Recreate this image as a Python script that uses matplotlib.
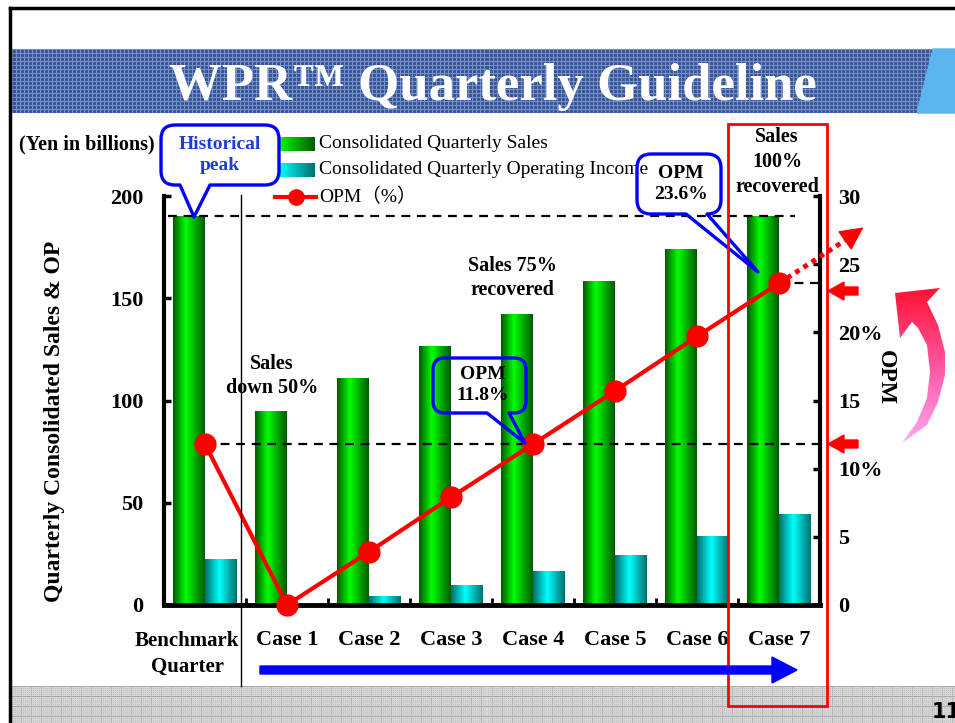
import numpy as np
import matplotlib
matplotlib.use("Agg")
import matplotlib.pyplot as plt
from matplotlib.colors import LinearSegmentedColormap
from matplotlib.patches import Rectangle, Polygon, PathPatch
from matplotlib.path import Path

# ---------------- data ----------------
categories = ["Benchmark\nQuarter", "Case 1", "Case 2", "Case 3", "Case 4", "Case 5", "Case 6", "Case 7"]
sales = [190, 95, 110.8, 126.7, 142.5, 158.3, 174.2, 190]
op_income = [22.4, 0, 4.2, 9.9, 16.5, 24.5, 33.5, 44.5]
opm = [11.8, 0, 3.9, 7.9, 11.8, 15.7, 19.7, 23.6]
left_ticks = [0, 50, 100, 150, 200]
right_ticks = [0, 5, 10, 15, 20, 25, 30]
right_tick_labels = ["0", "5", "10%", "15", "20%", "25", "30"]
series_names = ["Consolidated Quarterly Sales",
                "Consolidated Quarterly Operating Income",
                "OPM（%）"]

plt.rcParams["font.family"] = ["Liberation Serif", "Noto Sans CJK JP"]
plt.rcParams["font.weight"] = "bold"

W, H = 955, 723
fig = plt.figure(figsize=(W / 100, H / 100), dpi=100)
fig.patch.set_facecolor("white")

# ---------------- main axes ----------------
ax = fig.add_axes([164 / W, 1 - 605 / H, 656 / W, 409 / H])
ax2 = ax.twinx()

x = np.arange(len(categories))
bw = 0.39
gbars = ax.bar(x - bw / 2, sales, bw, color="#00c000", zorder=2)
cbars = ax.bar(x + bw / 2, op_income, bw, color="#00d0d0", zorder=2)

green_cmap = LinearSegmentedColormap.from_list(
    "g", [(0, "#005800"), (0.4, "#00ff00"), (1, "#005800")])
cyan_cmap = LinearSegmentedColormap.from_list(
    "c", [(0, "#006e6e"), (0.45, "#00ffff"), (1, "#006e6e")])
grad = np.linspace(0, 1, 256).reshape(1, -1)
for bars, cmap in ((gbars, green_cmap), (cbars, cyan_cmap)):
    for p in bars:
        x0, w, h = p.get_x(), p.get_width(), p.get_height()
        if h <= 0:
            continue
        im = ax.imshow(grad, cmap=cmap, extent=(x0, x0 + w, 0, h),
                       aspect="auto", zorder=2.5, interpolation="bilinear")
        im.set_clip_path(p)

ax.set_xlim(-0.5, 7.5)
ax.set_ylim(0, 200)
ax2.set_ylim(0, 30)

# dashed reference lines
ax.plot([-0.45, 7.2], [sales[0], sales[0]], color="black", lw=1.6,
        ls=(0, (4, 3)), zorder=3)
ax2.plot([0, 7.5], [opm[0], opm[0]], color="black", lw=1.6,
         ls=(0, (4, 3)), zorder=3)
ax2.plot([7, 7.5], [opm[7], opm[7]], color="black", lw=1.6,
         ls=(0, (4, 3)), zorder=3)

# OPM line
ax2.plot(x, opm, color="#ff0000", lw=3, marker="o", ms=15, zorder=4,
         clip_on=False)
slope = opm[7] - opm[6]
ax2.plot([7, 7.8], [opm[7], opm[7] + 0.8 * slope], color="#ff0000", lw=3.5,
         ls=(0, (1, 1)), zorder=4, clip_on=False)
ax2.annotate("", xy=(8.03, opm[7] + 1.05 * slope), xytext=(7.8, opm[7] + 0.8 * slope),
             arrowprops=dict(arrowstyle="-|>,head_length=1.5,head_width=0.75",
                             color="#ff0000", lw=1, shrinkA=0, shrinkB=0),
             annotation_clip=False, zorder=4)

# axes styling
for a in (ax, ax2):
    a.spines["top"].set_visible(False)
ax.spines["right"].set_visible(False)
ax2.spines["left"].set_visible(False)
ax2.spines["bottom"].set_visible(False)
ax.spines["left"].set_linewidth(3)
ax.spines["bottom"].set_linewidth(3.5)
ax2.spines["right"].set_linewidth(3)

ax.set_yticks(left_ticks)
ax.tick_params(axis="y", direction="in", length=5, width=2.5, pad=15, labelsize=16)
ax2.set_yticks(right_ticks)
ax2.set_yticklabels(right_tick_labels)
ax2.tick_params(axis="y", direction="in", length=5, width=2.5, pad=13, labelsize=16)

ax.set_xticks(x[1:])
ax.set_xticklabels(categories[1:])
ax.set_xticks(np.arange(0.5, 7, 1), minor=True)
ax.tick_params(axis="x", which="major", length=0, pad=18, labelsize=16)
ax.tick_params(axis="x", which="minor", direction="in", length=5, width=2)

ax.set_ylabel("Quarterly Consolidated Sales & OP", fontsize=17, fontweight="bold")
ax.yaxis.set_label_coords((65 - 164) / 656, (605 - 421) / 409)
ax2.set_ylabel("OPM", fontsize=17, fontweight="bold", rotation=-90, va="center")
ax2.yaxis.set_label_coords((885 - 164) / 656, (605 - 377) / 409)

# ---------------- overlay (pixel coordinates) ----------------
ov = fig.add_axes([0, 0, 1, 1], zorder=5)
ov.set_xlim(0, W)
ov.set_ylim(H, 0)
ov.axis("off")
ov.patch.set_alpha(0)

# slide borders
ov.plot([10, W], [8, 8], color="black", lw=2.5)
ov.plot([10, 10], [8, H], color="black", lw=2.5)

# title banner with texture
ii, jj = np.indices((64, 943))
tex = np.zeros((64, 943, 3))
tex[:] = (0.22, 0.34, 0.62)
mask = (ii % 4 == 0) | (jj % 4 == 0)
tex[mask] = (0.47, 0.57, 0.78)
ov.imshow(tex, extent=(12, W, 113, 49), aspect="auto", zorder=1,
          interpolation="nearest")
ov.add_patch(Polygon([(917, 113), (933, 49), (W, 49), (W, 113)],
                     closed=True, color="#5cb4ee", zorder=2))
ov.text(493, 100, "WPR™ Quarterly Guideline", color="white", fontsize=38,
        fontweight="bold", ha="center", va="baseline", zorder=3)

# bottom band
ii, jj = np.indices((37, 944))
tex2 = np.ones((37, 944, 3)) * 0.84
tex2[(ii % 2 == 0) & (jj % 2 == 0)] = 0.76
tex2[(ii % 10 == 0)] = 0.66
tex2[(jj % 10 == 0)] = 0.72
ov.imshow(tex2, extent=(11, W, H, 686), aspect="auto", zorder=1,
          interpolation="nearest")
ov.text(932, 712, "11", fontsize=15, fontweight="bold", family="DejaVu Sans",
        ha="left", va="center", zorder=3)

# separator line
ov.plot([241, 241], [195, 686], color="black", lw=1)

# legend
ov.imshow(LinearSegmentedColormap.from_list("lg", ["#00ff00", "#005a00"])(grad),
          extent=(279, 315, 151, 137), aspect="auto", zorder=3)
ov.imshow(LinearSegmentedColormap.from_list("lc", ["#00ffff", "#007070"])(grad),
          extent=(279, 315, 177, 163), aspect="auto", zorder=3)
ov.plot([275, 316], [197, 197], color="#ff0000", lw=3, zorder=3)
ov.plot([296], [197], marker="o", color="#ff0000", ms=11, zorder=3)
for yy, name in zip((144, 170, 197), series_names):
    ov.text(319, yy, name, fontsize=14, fontweight="normal", ha="left",
            va="center", zorder=3)

ov.text(87, 144, "(Yen in billions)", fontsize=14.5, fontweight="bold",
        ha="center", va="center")


# callouts
def callout(x0, y0, x1, y1, r, ba, bb, tip):
    verts = [(ba, y1), tip, (bb, y1), (x1 - r, y1),
             (x1, y1), (x1, y1 - r), (x1, y0 + r),
             (x1, y0), (x1 - r, y0), (x0 + r, y0),
             (x0, y0), (x0, y0 + r), (x0, y1 - r),
             (x0, y1), (x0 + r, y1), (ba, y1)]
    codes = [Path.MOVETO, Path.LINETO, Path.LINETO, Path.LINETO,
             Path.CURVE3, Path.CURVE3, Path.LINETO,
             Path.CURVE3, Path.CURVE3, Path.LINETO,
             Path.CURVE3, Path.CURVE3, Path.LINETO,
             Path.CURVE3, Path.CURVE3, Path.CLOSEPOLY]
    ov.add_patch(PathPatch(Path(verts, codes), fill=False, ec="#0000ff",
                           lw=2.4, joinstyle="round", zorder=6))


callout(161, 125, 279, 185, 14, 180, 210, (194, 217))
callout(637, 154, 721, 214, 14, 686, 707, (758, 272))
callout(433, 358, 526, 413, 12, 487, 509, (525, 443))

ov.text(220, 155, "Historical\npeak", color="#1c3fd1", fontsize=14,
        fontweight="bold", ha="center", va="center", linespacing=1.25, zorder=7)
ov.text(681, 184, "OPM\n23.6%", fontsize=14, fontweight="bold",
        ha="center", va="center", linespacing=1.25, zorder=7)
ov.text(483, 385, "OPM\n11.8%", fontsize=14, fontweight="bold",
        ha="center", va="center", linespacing=1.25, zorder=7)
ov.text(777, 162, "Sales\n100%\nrecovered", fontsize=14.5, fontweight="bold",
        ha="center", va="center", linespacing=1.3, zorder=7)
ov.text(512, 278, "Sales 75%\nrecovered", fontsize=14.5, fontweight="bold",
        ha="center", va="center", linespacing=1.3, zorder=7)
ov.text(272, 376, "Sales\ndown 50%", fontsize=14.5, fontweight="bold",
        ha="center", va="center", linespacing=1.3, zorder=7)
ov.text(187, 654, categories[0], fontsize=15, fontweight="bold",
        ha="center", va="center", linespacing=1.45, zorder=7)

# red highlight box
ov.add_patch(Rectangle((728, 124), 99, 582, fill=False, ec="#ff0000", lw=2,
                       zorder=6))

# blue progress arrow
ov.add_patch(Polygon([(260, 666), (772, 666), (772, 657), (797, 670),
                      (772, 683), (772, 674), (260, 674)], closed=True,
                     color="#0000ff", zorder=6))

# red level arrows
for yy in (291, 444):
    ov.add_patch(Polygon([(828, yy), (844, yy - 9), (844, yy - 4), (858, yy - 4),
                          (858, yy + 4), (844, yy + 4), (844, yy + 9)],
                         closed=True, color="#ff0000", zorder=6))

# curved pink arrow
curve_pts = [(895, 293), (940, 288), (927, 302), (938, 325), (945, 352),
             (945, 375), (938, 402), (927, 425), (902, 443), (917, 422),
             (927, 398), (930, 372), (927, 345), (918, 328), (912, 322),
             (900, 338)]
cpatch = Polygon(curve_pts, closed=True, fc="none", ec="none")
ov.add_patch(cpatch)
vgrad = np.linspace(0, 1, 256).reshape(-1, 1)
arrow_cmap = LinearSegmentedColormap.from_list("pa", ["#ff1030", "#ff55a0", "#ffaaf5"])
aim = ov.imshow(vgrad, cmap=arrow_cmap, extent=(890, 950, 445, 285),
                aspect="auto", zorder=6)
aim.set_clip_path(cpatch)

fig.savefig("out.png", dpi=100)
